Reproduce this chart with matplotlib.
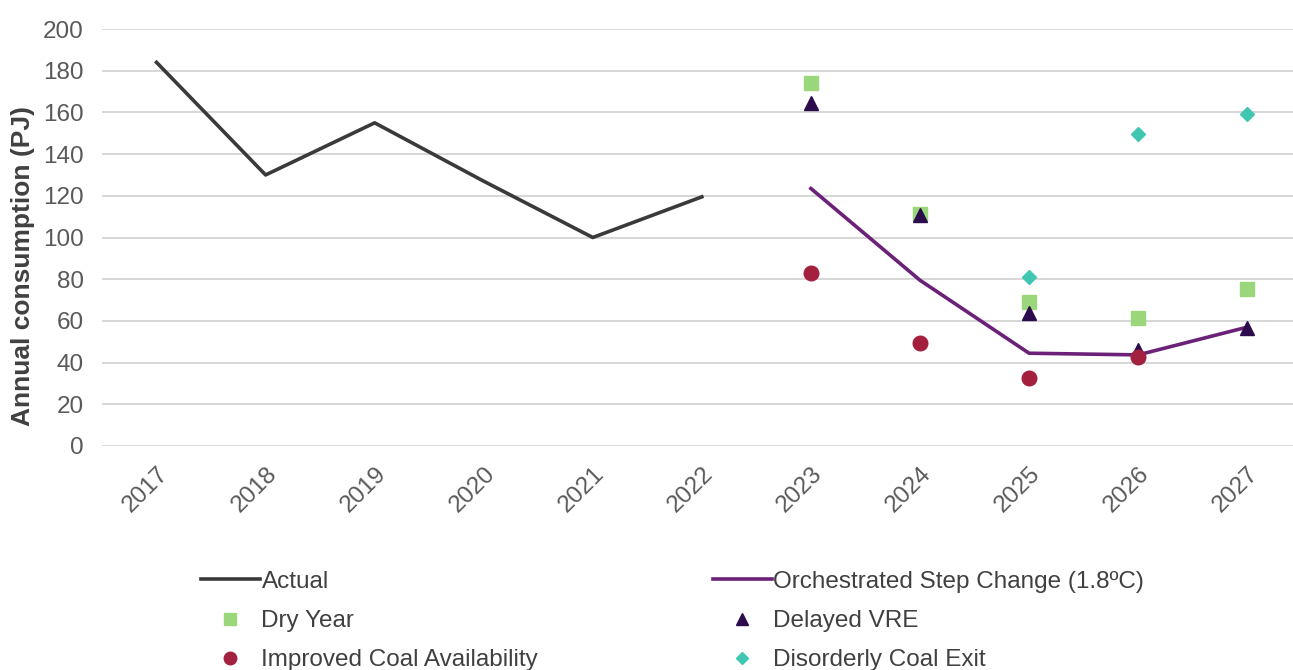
import numpy as np
import matplotlib
matplotlib.use("Agg")
import matplotlib.pyplot as plt
from matplotlib.lines import Line2D

plt.rcParams['font.family'] = ['Liberation Sans', 'DejaVu Sans']

years = ['2017', '2018', '2019', '2020', '2021', '2022',
         '2023', '2024', '2025', '2026', '2027']

# values (PJ); None where no point is drawn
actual = [184, 130, 155, 127, 100, 119.5, None, None, None, None, None]
step_change = [None, None, None, None, None, None, 123.5, 79.5, 44.5, 43.7, 57]
dry_year = [None, None, None, None, None, None, 174, 111.5, 69, 61.5, 75.5]
delayed_vre = [None, None, None, None, None, None, 164.5, 110.8, 64, 46, 56.6]
improved_coal = [None, None, None, None, None, None, 83, 49.5, 32.5, 42.8, None]
disorderly_exit = [None, None, None, None, None, None, None, None, 81, 149.6, 159]


def arr(vals):
    return np.array([np.nan if v is None else v for v in vals], dtype=float)


x = np.arange(len(years))

c_actual = '#3a3a3a'
c_osc = '#6b2178'
c_dry = '#9ad67a'
c_vre = '#2d0c4e'
c_coal = '#a3203f'
c_exit = '#3fc7b1'

fig = plt.figure(figsize=(12.93, 6.70), dpi=100)
ax = fig.add_axes([102 / 1293, 1 - 446 / 670, (1293 - 102) / 1293, (446 - 29) / 670])

ax.plot(x, arr(actual), color=c_actual, lw=2.6, zorder=3)
ax.plot(x, arr(step_change), color=c_osc, lw=2.6, zorder=3)
ax.plot(x, arr(dry_year), ls='none', marker='s', ms=10, color=c_dry, zorder=4)
ax.plot(x, arr(delayed_vre), ls='none', marker='^', ms=10, color=c_vre, zorder=5)
ax.plot(x, arr(improved_coal), ls='none', marker='o', ms=10.5, color=c_coal, zorder=6)
ax.plot(x, arr(disorderly_exit), ls='none', marker='D', ms=7.5, color=c_exit, zorder=4)

ax.set_ylim(0, 200)
ax.set_yticks(np.arange(0, 201, 20))
ax.set_xlim(-0.5, 10.42)
ax.set_xticks(x)
ax.set_xticklabels(years, rotation=45, ha='right', rotation_mode='anchor')
ax.grid(axis='y', color='#d4d4d4', lw=1.3)
ax.set_axisbelow(True)
for s in ax.spines.values():
    s.set_visible(False)
ax.tick_params(axis='both', length=0, labelsize=17.5, colors='#595959')
ax.tick_params(axis='x', pad=12)
ax.tick_params(axis='y', pad=13)
ax.set_ylabel('Annual consumption (PJ)', fontsize=19, color='#404040',
              fontweight='bold')
ax.yaxis.set_label_coords(-0.056, 0.432)

leg_kw = dict(frameon=False, fontsize=17.5, handlelength=2.45, handletextpad=0.05,
              labelspacing=0.71, labelcolor='#404040', borderaxespad=0)

left_handles = [
    Line2D([], [], color=c_actual, lw=2.6),
    Line2D([], [], ls='none', marker='s', ms=9, color=c_dry),
    Line2D([], [], ls='none', marker='o', ms=9, color=c_coal),
]
left_labels = ['Actual', 'Dry Year', 'Improved Coal Availability']
right_handles = [
    Line2D([], [], color=c_osc, lw=2.6),
    Line2D([], [], ls='none', marker='^', ms=9, color=c_vre),
    Line2D([], [], ls='none', marker='D', ms=6.5, color=c_exit),
]
right_labels = ['Orchestrated Step Change (1.8\u00baC)', 'Delayed VRE', 'Disorderly Coal Exit']

leg1 = fig.legend(left_handles, left_labels, loc='upper left',
                  bbox_to_anchor=(191 / 1293, 1 - 561 / 670), **leg_kw)
leg2 = fig.legend(right_handles, right_labels, loc='upper left',
                  bbox_to_anchor=(703 / 1293, 1 - 561 / 670), **leg_kw)

fig.savefig('out.png', dpi=100)
